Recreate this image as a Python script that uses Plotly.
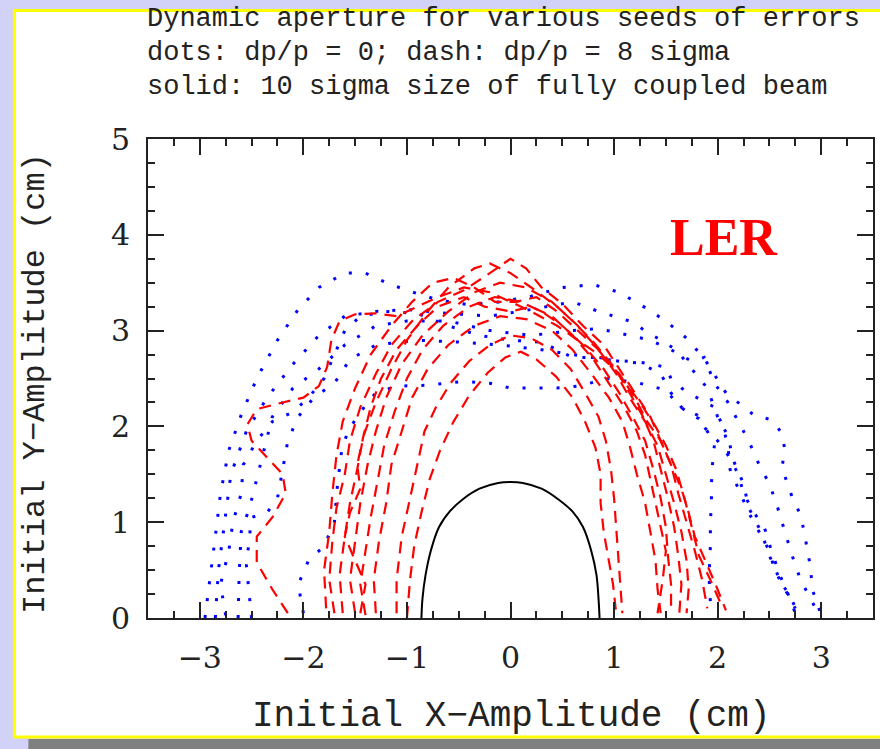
import plotly.graph_objects as go

# ---------------------------------------------------------------
# Dynamic aperture boundaries, dp/p = 0 (blue dots), one list per error seed
# points run from the left foot (y=0) over the top to the right foot
# ---------------------------------------------------------------
da_on_seed1 = [(-2.95, 0.0), (-2.9, 0.4), (-2.85, 0.85), (-2.8, 1.3), (-2.72, 1.75), (-2.6, 2.12),
               (-2.45, 2.5), (-2.25, 2.9), (-2.05, 3.22), (-1.85, 3.45), (-1.6, 3.6), (-1.4, 3.6),
               (-1.2, 3.5), (-1.0, 3.42), (-0.7, 3.32), (-0.4, 3.27), (-0.1, 3.3), (0.2, 3.36),
               (0.5, 3.45), (0.8, 3.48), (1.05, 3.4), (1.3, 3.24), (1.5, 3.1), (1.7, 2.92),
               (1.87, 2.71), (2.08, 2.35), (2.36, 2.11), (2.52, 2.07), (2.62, 1.93), (2.65, 1.75),
               (2.62, 1.57), (2.72, 1.26), (2.79, 1.1), (2.83, 0.93), (2.86, 0.75), (2.89, 0.57),
               (2.92, 0.28), (3.0, 0.03)]
da_on_seed2 = [(-2.85, 0.0), (-2.82, 0.5), (-2.76, 1.0), (-2.7, 1.5), (-2.55, 1.95), (-2.35, 2.3),
               (-2.1, 2.65), (-1.85, 2.95), (-1.6, 3.15), (-1.3, 3.2), (-1.0, 3.22), (-0.6, 3.18),
               (-0.2, 3.15), (0.2, 3.22), (0.6, 3.3), (0.85, 3.2), (1.15, 3.1), (1.45, 2.9),
               (1.6, 2.8), (1.75, 2.6), (1.9, 2.4), (2.0, 2.1), (2.1, 1.9), (2.15, 1.65),
               (2.25, 1.4), (2.3, 1.15), (2.42, 0.9), (2.5, 0.65), (2.6, 0.4), (2.7, 0.22), (2.78, 0.05)]
da_on_seed3 = [(-2.63, 0.0), (-2.62, 0.45), (-2.6, 0.9), (-2.52, 1.15), (-2.45, 1.45), (-2.38, 1.75),
               (-2.3, 2.1), (-2.1, 2.4), (-1.85, 2.6), (-1.6, 2.85), (-1.3, 3.05), (-1.0, 3.1),
               (-0.6, 3.1), (-0.2, 3.0), (0.2, 2.95), (0.6, 3.0), (0.85, 3.02), (1.15, 2.95),
               (1.35, 2.9), (1.55, 2.8), (1.75, 2.68), (1.87, 2.72), (1.97, 2.45), (2.1, 2.25),
               (2.2, 2.05), (2.3, 1.85), (2.4, 1.6), (2.5, 1.4), (2.58, 1.15), (2.65, 0.9),
               (2.72, 0.65), (2.8, 0.4), (2.9, 0.2), (2.97, 0.05)]
da_on_seed4 = [(-2.5, 0.0), (-2.55, 0.55), (-2.5, 1.05), (-2.35, 1.1), (-2.25, 1.25), (-2.2, 1.55),
               (-2.15, 1.85), (-2.05, 2.1), (-1.9, 2.3), (-1.7, 2.45), (-1.55, 2.7), (-1.3, 2.85),
               (-0.9, 2.9), (-0.5, 2.88), (-0.1, 2.85), (0.3, 2.8), (0.6, 2.75), (0.9, 2.7),
               (1.25, 2.67), (1.5, 2.62), (1.55, 2.5), (1.65, 2.4), (1.8, 2.3), (1.97, 2.2),
               (2.05, 2.0), (2.1, 1.8), (2.12, 1.55), (2.22, 1.3), (2.3, 1.1), (2.4, 0.9),
               (2.5, 0.7), (2.55, 0.5), (2.65, 0.3), (2.75, 0.1)]
da_on_seed5 = [(-2.0, 0.05), (-2.05, 0.35), (-1.95, 0.6), (-1.8, 0.75), (-1.7, 1.0), (-1.67, 1.4),
               (-1.63, 1.75), (-1.57, 1.95), (-1.48, 2.1), (-1.4, 2.22), (-1.3, 2.35), (-1.1, 2.42),
               (-0.8, 2.43), (-0.45, 2.47), (-0.2, 2.45), (0.0, 2.4), (0.2, 2.4), (0.45, 2.4),
               (0.65, 2.42), (0.95, 2.5), (1.25, 2.45), (1.5, 2.38), (1.6, 2.25), (1.7, 2.15),
               (1.82, 2.08), (1.9, 1.95), (1.97, 1.82), (1.95, 1.6), (1.94, 1.4), (1.94, 1.2),
               (1.93, 1.0), (1.93, 0.75), (1.92, 0.5), (1.92, 0.3), (1.94, 0.05)]
da_on_seed6 = [(-2.75, 0.03), (-2.8, 0.35), (-2.72, 0.7), (-2.68, 1.0), (-2.6, 1.3), (-2.58, 1.6),
               (-2.45, 1.85), (-2.3, 2.05), (-2.1, 2.15), (-1.95, 2.3), (-1.8, 2.5), (-1.7, 2.75),
               (-1.6, 3.0), (-1.45, 3.15), (-1.2, 3.2), (-0.9, 3.18), (-0.6, 3.05), (-0.3, 2.95),
               (0.0, 2.9), (0.3, 2.88), (0.6, 2.72), (0.85, 2.72), (1.05, 2.68), (1.25, 2.66),
               (1.45, 2.55), (1.55, 2.35), (1.65, 2.2), (1.8, 2.12), (1.88, 1.98), (2.0, 1.85),
               (2.1, 1.7), (2.2, 1.5), (2.25, 1.3), (2.35, 1.1), (2.45, 0.95), (2.52, 0.7),
               (2.6, 0.45), (2.68, 0.25), (2.75, 0.05)]

# ---------------------------------------------------------------
# Dynamic aperture boundaries, dp/p = 8 sigma (red dashes), one list per seed
# ---------------------------------------------------------------
da_off_seed1 = [(-1.0, 0.0), (-0.97, 0.4), (-0.93, 0.75), (-0.86, 1.1), (-0.78, 1.45), (-0.68, 1.75),
                (-0.55, 2.05), (-0.4, 2.32), (-0.22, 2.56), (-0.05, 2.72), (0.1, 2.78), (0.25, 2.7),
                (0.44, 2.52), (0.6, 2.3), (0.72, 2.05), (0.82, 1.78), (0.87, 1.5), (0.87, 1.2),
                (0.9, 0.9), (0.95, 0.6), (0.99, 0.35), (1.02, 0.05)]
da_off_seed2 = [(-1.1, 0.05), (-1.1, 0.4), (-1.05, 0.85), (-0.97, 1.25), (-0.9, 1.6), (-0.83, 1.95),
                (-0.72, 2.2), (-0.58, 2.45), (-0.4, 2.68), (-0.2, 2.85), (0.0, 2.95), (0.2, 2.92),
                (0.4, 2.8), (0.58, 2.6), (0.72, 2.35), (0.85, 2.1), (0.92, 1.85), (0.97, 1.55),
                (1.0, 1.25), (1.02, 0.95), (1.05, 0.6), (1.07, 0.3), (1.08, 0.05)]
da_off_seed3 = [(-1.3, 0.05), (-1.32, 0.4), (-1.27, 0.8), (-1.2, 1.2), (-1.15, 1.6), (-1.05, 1.95),
                (-0.95, 2.3), (-0.8, 2.6), (-0.6, 2.85), (-0.35, 3.05), (-0.1, 3.15), (0.15, 3.12),
                (0.4, 3.0), (0.6, 2.8), (0.78, 2.55), (0.95, 2.3), (1.08, 2.05), (1.15, 1.8),
                (1.22, 1.5), (1.3, 1.2), (1.35, 0.9), (1.4, 0.6), (1.42, 0.3), (1.45, 0.05)]
da_off_seed4 = [(-1.4, 0.03), (-1.45, 0.35), (-1.4, 0.7), (-1.35, 1.05), (-1.28, 1.45), (-1.22, 1.8),
                (-1.12, 2.15), (-1.0, 2.5), (-0.85, 2.8), (-0.65, 3.05), (-0.4, 3.25), (-0.15, 3.35),
                (0.1, 3.3), (0.3, 3.2), (0.5, 3.05), (0.7, 2.85), (0.9, 2.6), (1.05, 2.35),
                (1.18, 2.1), (1.3, 1.85), (1.38, 1.55), (1.45, 1.25), (1.5, 0.95), (1.52, 0.65),
                (1.55, 0.35), (1.55, 0.05)]
da_off_seed5 = [(-1.5, 0.05), (-1.55, 0.4), (-1.5, 0.8), (-1.45, 1.2), (-1.38, 1.6), (-1.3, 1.95),
                (-1.2, 2.3), (-1.05, 2.65), (-0.85, 2.95), (-0.6, 3.2), (-0.35, 3.4), (-0.1, 3.5),
                (0.15, 3.45), (0.4, 3.3), (0.6, 3.1), (0.8, 2.88), (1.0, 2.62), (1.15, 2.35),
                (1.28, 2.1), (1.38, 1.85), (1.45, 1.55), (1.52, 1.25), (1.58, 0.95), (1.62, 0.65),
                (1.65, 0.35), (1.63, 0.05)]
da_off_seed6 = [(-1.62, 0.05), (-1.65, 0.45), (-1.6, 0.85), (-1.55, 1.2), (-1.48, 1.55), (-1.42, 1.9),
                (-1.3, 2.25), (-1.15, 2.6), (-1.0, 2.9), (-0.8, 3.2), (-0.6, 3.45), (-0.35, 3.65),
                (-0.2, 3.7), (0.0, 3.6), (0.2, 3.45), (0.45, 3.25), (0.65, 3.05), (0.85, 2.8),
                (1.02, 2.55), (1.15, 2.3), (1.3, 2.05), (1.42, 1.8), (1.5, 1.5), (1.58, 1.2),
                (1.65, 0.9), (1.7, 0.6), (1.72, 0.3), (1.7, 0.05)]
da_off_seed7 = [(-1.7, 0.05), (-1.75, 0.4), (-1.72, 0.8), (-1.68, 1.15), (-1.6, 1.5), (-1.55, 1.85),
                (-1.45, 2.2), (-1.3, 2.55), (-1.15, 2.85), (-0.95, 3.1), (-0.7, 3.3), (-0.45, 3.42),
                (-0.2, 3.6), (0.0, 3.75), (0.15, 3.65), (0.3, 3.45), (0.5, 3.28), (0.7, 3.05),
                (0.9, 2.85), (1.05, 2.6), (1.2, 2.35), (1.35, 2.1), (1.45, 1.85), (1.55, 1.6),
                (1.62, 1.3), (1.7, 1.0), (1.78, 0.7), (1.85, 0.4), (1.9, 0.1)]
da_off_seed8 = [(-1.78, 0.1), (-1.8, 0.5), (-1.75, 0.9), (-1.72, 1.3), (-1.68, 1.7), (-1.62, 2.05),
                (-1.5, 2.4), (-1.35, 2.75), (-1.15, 3.05), (-0.95, 3.3), (-0.75, 3.5), (-0.55, 3.55),
                (-0.35, 3.45), (-0.15, 3.3), (0.05, 3.3), (0.25, 3.35), (0.45, 3.2), (0.65, 3.0),
                (0.85, 2.8), (1.0, 2.6), (1.15, 2.4), (1.28, 2.2), (1.4, 2.0), (1.5, 1.8),
                (1.6, 1.55), (1.68, 1.25), (1.75, 0.95), (1.82, 0.65), (1.95, 0.35), (2.05, 0.1)]
da_off_seed9 = [(-2.15, 0.05), (-2.3, 0.3), (-2.45, 0.58), (-2.45, 0.85), (-2.3, 1.05), (-2.17, 1.3),
                (-2.2, 1.5), (-2.35, 1.67), (-2.5, 1.85), (-2.54, 2.02), (-2.45, 2.18), (-2.2, 2.25),
                (-2.0, 2.3), (-1.85, 2.42), (-1.77, 2.62), (-1.73, 2.9), (-1.65, 3.1), (-1.5, 3.17),
                (-1.3, 3.18), (-1.1, 3.15), (-0.9, 3.25), (-0.7, 3.35), (-0.45, 3.45), (-0.2, 3.4),
                (0.0, 3.3), (0.2, 3.2), (0.45, 3.05), (0.65, 2.9), (0.85, 2.75), (1.05, 2.55),
                (1.2, 2.3), (1.32, 2.05), (1.45, 1.85), (1.55, 1.6), (1.65, 1.35), (1.72, 1.1),
                (1.78, 0.85), (1.88, 0.6), (1.98, 0.35), (2.08, 0.08)]
da_off_seed10 = [(-1.45, 0.05), (-1.4, 0.35), (-1.5, 0.6), (-1.6, 0.85), (-1.55, 1.1), (-1.45, 1.35),
                 (-1.48, 1.6), (-1.42, 1.9), (-1.35, 2.2), (-1.25, 2.5), (-1.1, 2.8), (-0.9, 3.05),
                 (-0.7, 3.25), (-0.45, 3.35), (-0.25, 3.25), (0.0, 3.2), (0.2, 3.25), (0.4, 3.15),
                 (0.6, 2.95), (0.8, 2.7), (0.95, 2.45), (1.1, 2.2), (1.22, 1.95), (1.3, 1.7),
                 (1.35, 1.45), (1.4, 1.2), (1.45, 0.95), (1.5, 0.7), (1.47, 0.4), (1.42, 0.05)]

# 10 sigma size of the fully coupled beam (black solid)
beam_10sigma = [(-0.86, 0.0), (-0.85, 0.2), (-0.82, 0.45), (-0.77, 0.7), (-0.69, 0.95), (-0.58, 1.12),
                (-0.46, 1.24), (-0.3, 1.35), (-0.12, 1.41), (0.0, 1.42), (0.12, 1.41), (0.3, 1.35),
                (0.46, 1.24), (0.6, 1.11), (0.7, 0.95), (0.78, 0.7), (0.83, 0.45), (0.85, 0.2),
                (0.86, 0.0)]

x_ticks = [-3, -2, -1, 0, 1, 2, 3]
y_ticks = [0, 1, 2, 3, 4, 5]

on_momentum = [da_on_seed1, da_on_seed2, da_on_seed3, da_on_seed4, da_on_seed5, da_on_seed6]
off_momentum = [da_off_seed1, da_off_seed2, da_off_seed3, da_off_seed4, da_off_seed5,
                da_off_seed6, da_off_seed7, da_off_seed8, da_off_seed9, da_off_seed10]

fig = go.Figure()


def add_curve(points, color, width, dash, shape="linear"):
    xs = [p[0] for p in points]
    ys = [p[1] for p in points]
    fig.add_trace(go.Scatter(x=xs, y=ys, mode="lines", showlegend=False, hoverinfo="skip",
                             line=dict(color=color, width=width, dash=dash, shape=shape)))


for pts in on_momentum:
    add_curve(pts, "#0000ff", 3, "3px,14px")
for pts in off_momentum:
    add_curve(pts, "#ff0000", 2.2, "12px,8px")
add_curve(beam_10sigma, "#000000", 2, "solid", "spline")

TEXT = "#222222"
MONO = "Liberation Mono"
SERIF = "DejaVu Serif"

axis_common = dict(
    ticks="inside", ticklen=16, tickwidth=2, tickcolor="#222",
    showline=True, linewidth=2, linecolor="#222", mirror="ticks",
    showgrid=False, zeroline=False,
    tickfont=dict(family=SERIF, size=30, color=TEXT),
    minor=dict(ticks="inside", ticklen=7, tickwidth=1.5, tickcolor="#222", dtick=0.25, tick0=0,
               showgrid=False),
)

fig.update_layout(
    width=880, height=749, autosize=False,
    margin=dict(l=148, r=5, t=139, b=131),
    paper_bgcolor="#d2d2f8",
    plot_bgcolor="#ffffff",
    xaxis=dict(range=[-3.5, 3.5], tickmode="array", tickvals=x_ticks, ticklabelstandoff=12,
               **axis_common),
    yaxis=dict(range=[0, 5], tickmode="array", tickvals=y_ticks, ticklabelstandoff=10,
               **axis_common),
)

# slide panel: white sheet with a yellow rim and a grey drop shadow
fig.add_shape(type="rect", xref="paper", yref="paper", x0=-0.165, x1=1.03, y0=-0.2526, y1=-0.30,
              fillcolor="#808080", line=dict(width=0), layer="below")
fig.add_shape(type="rect", xref="paper", yref="paper", x0=-0.1843, x1=1.03, y0=-0.2484, y1=1.2683,
              fillcolor="#ffffff", line=dict(color="#ffff00", width=3), layer="below")

title_lines = ["Dynamic aperture for various seeds of errors",
               "dots: dp/p = 0; dash: dp/p = 8 sigma",
               "solid: 10 sigma size of fully coupled beam"]
title_y = [1.2505, 1.1795, 1.1086]
for txt, yy in zip(title_lines, title_y):
    fig.add_annotation(text=txt, xref="paper", yref="paper", x=-0.004, y=yy,
                       xanchor="left", yanchor="middle", showarrow=False,
                       font=dict(family=MONO, size=27, color=TEXT))

fig.add_annotation(text="Initial X\u2212Amplitude (cm)", xref="paper", yref="paper", x=0.5, y=-0.2046,
                   xanchor="center", yanchor="middle", showarrow=False,
                   font=dict(family=MONO, size=36, color=TEXT))
fig.add_annotation(text="Initial Y\u2212Amplitude (cm)", xref="paper", yref="paper", x=-0.155, y=0.49,
                   xanchor="center", yanchor="middle", showarrow=False, textangle=-90,
                   font=dict(family=MONO, size=32, color=TEXT))
fig.add_annotation(text="<b>LER</b>", xref="x", yref="y", x=2.06, y=3.97,
                   xanchor="center", yanchor="middle", showarrow=False,
                   font=dict(family="Liberation Serif", size=52, color="#ff0000"))

fig.write_html("out.html")
